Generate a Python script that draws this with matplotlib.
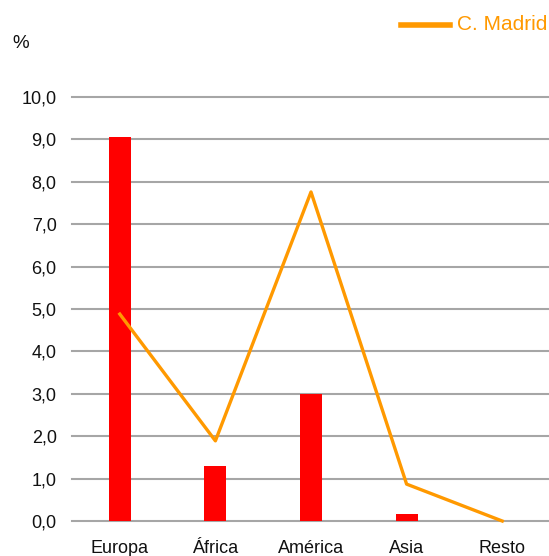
import matplotlib.pyplot as plt
import numpy as np

plt.rcParams['font.family'] = ['Liberation Sans', 'DejaVu Sans']

regiones = ['Europa', 'África', 'América', 'Asia', 'Resto']
barras = [9.06, 1.30, 3.00, 0.17, 0.0]
madrid = [4.88, 1.89, 7.76, 0.87, 0.0]
yticks = [0, 1, 2, 3, 4, 5, 6, 7, 8, 9, 10]

fig = plt.figure(figsize=(5.49, 5.56), dpi=100)
ax = fig.add_axes([72/549, 35/556, 478/549, 424/556])

x = np.arange(len(regiones))
ax.bar(x, barras, width=0.23, color='#ff0000', zorder=2)
ax.plot(x, madrid, color='#ff9900', lw=2.4, zorder=3, clip_on=False)

ax.set_xlim(-0.5, 4.5)
ax.set_ylim(0, 10)
ax.set_yticks(yticks)
ax.set_yticklabels([f'{v:.1f}'.replace('.', ',') for v in yticks], fontsize=13, color='#111111')
ax.set_xticks(x)
ax.set_xticklabels(regiones, fontsize=13, color='#111111')
ax.tick_params(axis='both', length=0)
ax.tick_params(axis='y', pad=11)
ax.tick_params(axis='x', pad=14)
for s in ax.spines.values():
    s.set_visible(False)
for v in yticks:
    ax.axhline(v, color='#a6a6a6', lw=1.5, zorder=1, clip_on=False)

fig.text(12/549, 1 - 43/556, '%', fontsize=13.5, color='#111111', va='center', ha='left')
fig.lines.append(plt.Line2D([401/549, 450/549], [1 - 25/556, 1 - 25/556],
                            transform=fig.transFigure, color='#ff9900', lw=4))
fig.text(457/549, 1 - 25/556, 'C. Madrid', fontsize=15, color='#ff9900', va='center', ha='left')

fig.savefig('out.png', dpi=100)
